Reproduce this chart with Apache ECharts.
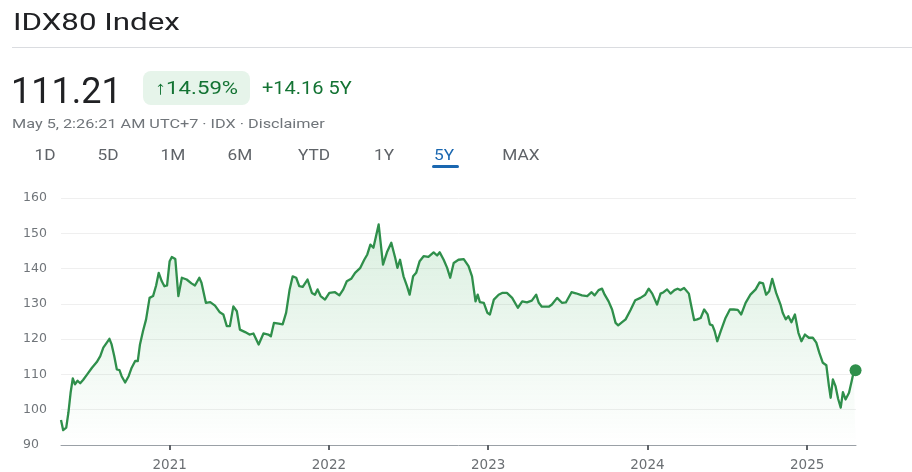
<!DOCTYPE html>
<html><head><meta charset="utf-8">
<script src="https://cdn.jsdelivr.net/npm/echarts@6/dist/echarts.min.js"></script>
<style>
html,body{margin:0;padding:0;background:#fff;width:912px;height:472px;overflow:hidden;font-family:Roboto,Arial,sans-serif;}
#chart{position:absolute;left:0;top:0;width:912px;height:472px;}
.t{position:absolute;white-space:nowrap;line-height:1;transform-origin:0 0;}
.tab{position:absolute;top:147.5px;transform:translateX(-50%) scaleX(1.15);font-size:15px;font-weight:400;color:#5f6368;white-space:nowrap;line-height:1;}
</style></head><body>
<div id="chart"></div>
<div class="t" style="left:13px;top:11px;font-size:23px;color:#202124;transform:scaleX(1.36);">IDX80 Index</div>
<div style="position:absolute;left:12px;right:0;top:47px;height:1px;background:#dadce0"></div>
<div class="t" style="left:11px;top:72.6px;font-size:36px;color:#202124;">111.21</div>
<div style="position:absolute;left:143px;top:71px;width:107px;height:34px;border-radius:8px;background:#e6f4ea;"></div>
<div class="t" style="left:155px;top:79.3px;font-size:18.5px;font-weight:400;color:#137333;transform:scaleX(1.2);">&#8593;14.59%</div>
<div class="t" style="left:262px;top:79.3px;font-size:18.5px;font-weight:400;color:#137333;transform:scaleX(1.08);">+14.16 5Y</div>
<div class="t" style="left:12px;top:117.3px;font-size:13px;color:#70757a;transform:scaleX(1.25);">May 5, 2:26:21 AM UTC+7 · IDX · Disclaimer</div>
<div class="tab" style="left:45px">1D</div>
<div class="tab" style="left:107.5px">5D</div>
<div class="tab" style="left:172.5px">1M</div>
<div class="tab" style="left:240px">6M</div>
<div class="tab" style="left:313.5px">YTD</div>
<div class="tab" style="left:383.5px">1Y</div>
<div class="tab" style="left:444px;color:#1a67b0">5Y</div>
<div class="tab" style="left:520.5px">MAX</div>
<div style="position:absolute;left:432px;top:165px;width:27px;height:3px;border-radius:2px;background:#1a67b0"></div>
<script>
// Data
const d2020 = ['2020-04-27','2020-05-02','2020-05-09','2020-05-14','2020-05-19','2020-05-24','2020-05-29','2020-06-04','2020-06-10','2020-06-17','2020-06-26','2020-07-07','2020-07-18','2020-07-26','2020-08-02','2020-08-10','2020-08-16','2020-08-21','2020-08-27','2020-09-02','2020-09-08','2020-09-13','2020-09-21','2020-09-29','2020-10-06','2020-10-14','2020-10-20','2020-10-25','2020-11-01','2020-11-08','2020-11-16','2020-11-24','2020-12-01','2020-12-07','2020-12-14','2020-12-20','2020-12-26'];
const v2020 = [97.1,94.2,94.9,99.2,104.8,108.9,107.2,108.2,107.5,108.5,110,111.9,113.5,115.2,117.6,119,120.1,118.5,115.2,111.4,111.2,109.5,107.7,109.5,111.9,113.8,113.8,118.5,122.3,125.6,131.7,132.2,135.2,138.8,136.4,135,135.2];
const d2021 = ['2021-01-01','2021-01-06','2021-01-14','2021-01-21','2021-01-29','2021-02-09','2021-02-20','2021-02-28','2021-03-10','2021-03-15','2021-03-25','2021-04-04','2021-04-15','2021-04-26','2021-05-04','2021-05-12','2021-05-19','2021-05-27','2021-06-04','2021-06-11','2021-06-23','2021-07-03','2021-07-12','2021-07-24','2021-08-04','2021-08-15','2021-08-21','2021-08-28','2021-09-08','2021-09-17','2021-09-25','2021-10-03','2021-10-10','2021-10-18','2021-10-25','2021-11-02','2021-11-13','2021-11-23','2021-11-30','2021-12-06','2021-12-13','2021-12-23'];
const v2021 = [142.1,143.3,142.7,132.2,137.4,136.9,135.8,135.2,137.4,136,130.3,130.5,129.5,127.6,127,123.7,123.7,129.3,127.9,122.7,122,121.3,121.6,118.5,121.6,121.3,120.8,124.6,124.4,124.2,127.5,134.1,137.8,137.4,135,134.8,136.9,133.1,132.6,134.1,132.2,131.2];
const d2022 = ['2022-01-02','2022-01-15','2022-01-25','2022-02-03','2022-02-11','2022-02-21','2022-03-02','2022-03-14','2022-03-23','2022-03-30','2022-04-06','2022-04-13','2022-04-25','2022-05-05','2022-05-14','2022-05-24','2022-06-02','2022-06-07','2022-06-13','2022-06-21','2022-06-29','2022-07-05','2022-07-13','2022-07-20','2022-07-28','2022-08-06','2022-08-17','2022-08-29','2022-09-06','2022-09-12','2022-09-21','2022-09-29','2022-10-06','2022-10-14','2022-10-25','2022-11-06','2022-11-17','2022-11-25','2022-12-03','2022-12-08','2022-12-13','2022-12-22','2022-12-30'];
const v2022 = [133.1,133.3,132.4,134.1,136.4,137.1,138.8,140.2,142.5,144,146.8,145.9,152.5,141.1,144.6,147.3,143,140.2,142.5,137.8,135,132.6,137.8,138.8,142.1,143.5,143.3,144.6,143.7,144.6,142.5,140.2,137.4,141.6,142.5,142.7,140.7,137.8,130.7,132.6,130.5,130.3,127.5];
const d2023 = ['2023-01-05','2023-01-14','2023-01-25','2023-02-02','2023-02-13','2023-02-25','2023-03-10','2023-03-20','2023-03-31','2023-04-11','2023-04-21','2023-04-27','2023-05-04','2023-05-20','2023-05-27','2023-06-08','2023-06-19','2023-06-28','2023-07-11','2023-07-21','2023-08-04','2023-08-16','2023-08-26','2023-09-02','2023-09-11','2023-09-19','2023-09-25','2023-10-04','2023-10-12','2023-10-20','2023-10-26','2023-11-04','2023-11-12','2023-11-23','2023-12-04','2023-12-16','2023-12-27'];
const v2023 = [127,131.2,132.6,133.1,133.1,131.7,128.9,130.7,130.4,130.9,132.6,130.3,129.2,129.2,129.8,131.7,130.3,130.4,133.3,133,132.4,132.2,133.3,132.4,133.9,134.3,132.6,130.7,128.4,124.6,123.9,124.8,125.6,128.2,131,131.7,132.6];
const d2024 = ['2024-01-04','2024-01-12','2024-01-23','2024-01-31','2024-02-07','2024-02-15','2024-02-23','2024-03-03','2024-03-10','2024-03-17','2024-03-25','2024-04-05','2024-04-09','2024-04-17','2024-04-24','2024-05-02','2024-05-10','2024-05-18','2024-05-23','2024-05-29','2024-06-03','2024-06-09','2024-06-17','2024-06-28','2024-07-08','2024-07-17','2024-07-26','2024-08-03','2024-08-13','2024-08-24','2024-09-05','2024-09-14','2024-09-22','2024-09-29','2024-10-06','2024-10-13','2024-10-22','2024-11-01','2024-11-06','2024-11-13','2024-11-19','2024-11-26','2024-12-04','2024-12-12','2024-12-19','2024-12-27'];
const v2024 = [134.3,132.9,129.8,132.9,133.3,134.1,132.9,133.9,134.3,133.9,134.5,132.9,130.3,125.4,125.6,126,128.4,127,124.2,123.9,122.3,119.4,122.3,126,128.4,128.4,128.3,127,130.3,132.6,134.1,136.1,135.8,132.6,133.6,137.1,133.1,129.8,127.5,125.6,126.5,124.8,127,121.8,119.4,121.3];
const d2025 = ['2025-01-05','2025-01-14','2025-01-22','2025-01-29','2025-02-06','2025-02-14','2025-02-20','2025-02-24','2025-03-01','2025-03-07','2025-03-13','2025-03-19','2025-03-24','2025-03-30','2025-04-07','2025-04-13','2025-04-18','2025-04-22'];
const v2025 = [120.4,120.4,119,116.1,113.3,112.6,106.7,103.4,108.6,106.7,103.1,100.6,105,102.9,104.8,108.1,110.9,111.21];
const yearTicks = ['2021','2022','2023','2024','2025'];
const yTicks = [90,100,110,120,130,140,150,160];
const xStart = '2020-04-27', xEnd = '2025-04-23';

const dates = [].concat(d2020,d2021,d2022,d2023,d2024,d2025);
const values = [].concat(v2020,v2021,v2022,v2023,v2024,v2025);
const series = dates.map((d,i)=>[Date.parse(d), values[i]]);
const last = series[series.length-1];
const tickTimes = yearTicks.map(y => Date.parse(y + '-01-01'));

const chart = echarts.init(document.getElementById('chart'));
chart.setOption({
  animation:false,
  grid:{left:61,right:56,top:198,bottom:26,containLabel:false},
  xAxis:{
    type:'value',
    min:Date.parse(xStart), max:Date.parse(xEnd),
    axisLine:{show:true,lineStyle:{color:'#9aa0a6',width:1}},
    axisTick:{show:true,customValues:tickTimes,length:5,lineStyle:{color:'#5f6368',width:2}},
    axisLabel:{customValues:tickTimes,formatter:v=>String(new Date(v).getUTCFullYear()),color:'#6b6f73',fontSize:13.5,margin:13,fontFamily:'DejaVu Sans'},
    splitLine:{show:false}
  },
  yAxis:{
    type:'value',min:yTicks[0],max:yTicks[yTicks.length-1],interval:10,
    axisLine:{show:false},axisTick:{show:false},
    axisLabel:{color:'#70757a',fontSize:12.5,align:'left',margin:38,fontFamily:'DejaVu Sans'},
    splitLine:{show:true,lineStyle:{color:'#efefef',width:1}}
  },
  series:[{
    type:'line',data:series,showSymbol:false,smooth:false,
    lineStyle:{color:'#2f8f4b',width:2.3,join:'round'},
    areaStyle:{color:new echarts.graphic.LinearGradient(0,0,0,1,[{offset:0,color:'rgba(52,168,83,0.26)'},{offset:1,color:'rgba(52,168,83,0.0)'}])},
    z:2
  },{
    type:'scatter',data:[last],symbolSize:12,itemStyle:{color:'#2f8f4b',opacity:1},z:3
  }]
});
</script>
</body></html>
